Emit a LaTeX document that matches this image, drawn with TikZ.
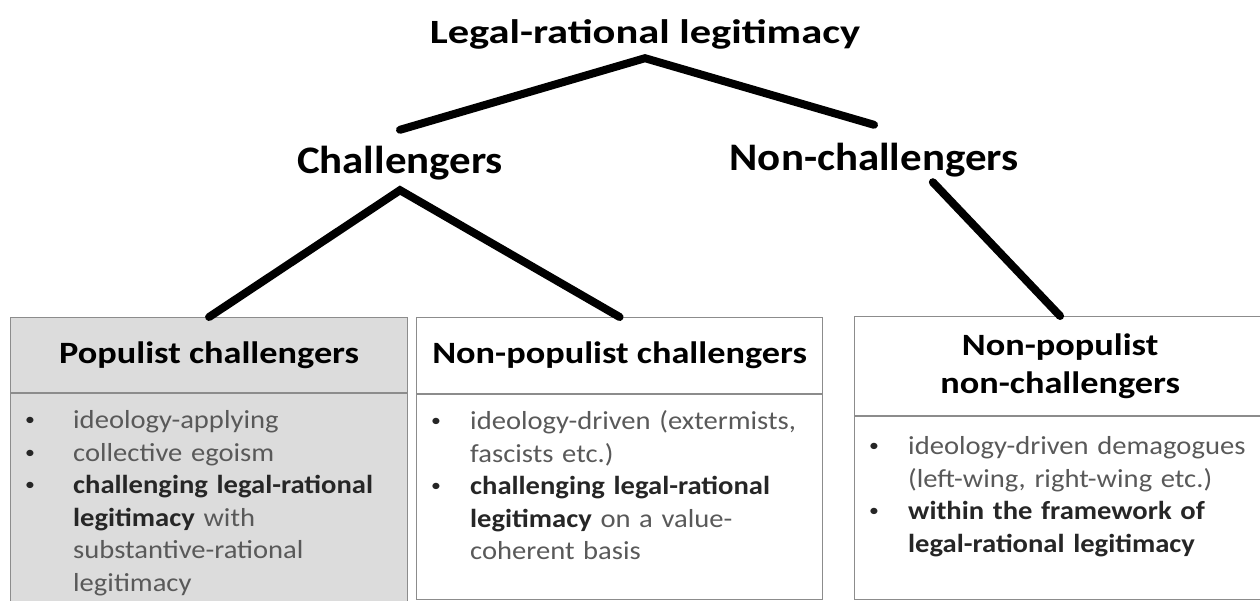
\documentclass[tikz,border=0pt]{standalone}
\usepackage{fontspec}
\setmainfont{Carlito}
\newfontfamily\titlefont[FakeStretch=1.25]{Carlito}
\newfontfamily\headfont[FakeStretch=1.17]{Carlito}
\newfontfamily\itemfont[FakeStretch=1.10]{Carlito}
\usepackage{xcolor}
\usetikzlibrary{positioning}
\definecolor{bodygray}{HTML}{595959}
\definecolor{darktext}{HTML}{262626}
\definecolor{boxgray}{HTML}{8C8C8C}
\definecolor{popfill}{HTML}{DCDCDC}
\newlength{\itemind}
\newlength{\bulpos}
\newcommand{\bitem}[1]{\par\noindent
  \makebox[\itemind][l]{\hspace{\bulpos}\raisebox{3pt}{\fontsize{18}{18}\selectfont\color{darktext}\textbullet}}%
  \parbox[t]{340pt}{\raggedright\leavevmode #1\vrule width0pt height0pt depth\dp\strutbox}%
  \par\prevdepth=\dp\strutbox}
\newcommand{\hl}[1]{{\bfseries\color{darktext}#1}}

\begin{document}
\begin{tikzpicture}[
  x=1pt, y=-1pt,
  toplabel/.style={font=\titlefont\bfseries\fontsize{34}{40}\selectfont,inner sep=0,anchor=base},
  level/.style={font=\itemfont\bfseries\fontsize{39}{45}\selectfont,inner sep=0,anchor=base},
  head/.style={draw=boxgray,line width=1.2pt,minimum height=75pt,inner sep=0,
               anchor=north west,align=center,font=\headfont\bfseries\fontsize{31}{38}\selectfont},
  body/.style={draw=boxgray,line width=1.2pt,inner sep=0,anchor=north west},
  itemtext/.style={anchor=north west,inner xsep=0,inner ysep=3pt,align=left,
               text=bodygray,font=\itemfont\fontsize{26}{32.5}\selectfont,
               execute at begin node={\setlength{\itemind}{#1}\setlength{\bulpos}{15pt}}},
  branch/.style={line width=8pt,line cap=round,line join=miter}
]
\clip (0,0) rectangle (1260,600);

\node[toplabel,text depth=15pt] (title) at (645,43) {Legal-rational legitimacy};
\node[level,text height=43pt,text depth=17pt] (chal) at (400,173) {Challengers};
\node[level,text height=45pt,text depth=12pt] (nonchal) at (874,170) {Non-challengers};

\node[head,fill=popfill,minimum width=397pt] (pophead) at (10,317) {Populist challengers};
\node[body,fill=popfill,minimum width=397pt,minimum height=212pt] (popbody) at (pophead.south west) {};
\node[itemtext=63pt,text width=397pt] (poptext) at (popbody.north west) {%
  \bitem{ideology-applying}
  \bitem{collective egoism}
  \bitem{\hl{challenging legal-rational}\\\hl{legitimacy} with\\
    substantive-rational\\legitimacy}};

\node[head,minimum width=406pt,minimum height=76pt] (nphead) at (416,317) {Non-populist challengers};
\node[body,minimum width=406pt,minimum height=205pt] (npbody) at (nphead.south west) {};
\node[itemtext=54pt,text width=406pt] (nptext) at (npbody.north west) {%
  \bitem{ideology-driven (extermists,\\fascists etc.)}
  \bitem{\hl{challenging legal-rational}\\\hl{legitimacy} on a value-\\coherent basis}};

\node[head,minimum width=411pt,minimum height=99pt] (nnhead) at (854,316) {Non-populist\\non-challengers};
\node[body,minimum width=411pt,minimum height=183pt] (nnbody) at (nnhead.south west) {};
\node[itemtext=54pt,text width=411pt,inner ysep=6pt] (nntext) at (nnbody.north west) {%
  \bitem{ideology-driven demagogues\\(left-wing, right-wing etc.)}
  \bitem{\hl{within the framework of}\\\hl{legal-rational legitimacy}}};

\draw[branch] (chal.north) -- (title.south) -- (nonchal.north);
\draw[branch] (pophead.north) -- (chal.south) -- (nphead.north);
\draw[branch] (nonchal.-26) -- (nnhead.north);
\end{tikzpicture}
\end{document}
